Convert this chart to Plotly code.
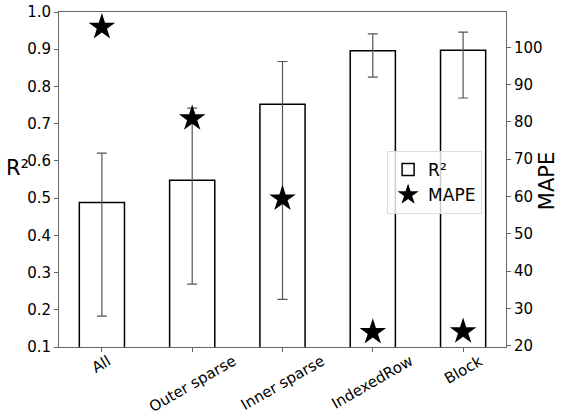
import plotly.graph_objects as go

categories = ["All", "Outer sparse", "Inner sparse", "IndexedRow", "Block"]
r2_values = [0.488, 0.548, 0.752, 0.896, 0.897]
r2_err_plus = [0.133, 0.194, 0.115, 0.045, 0.049]
r2_err_minus = [0.305, 0.279, 0.524, 0.071, 0.128]
mape_values = [105.4, 80.9, 59.4, 23.6, 23.8]

xpos = list(range(len(categories)))
FONT = "DejaVu Sans"
AX = "#666666"

fig = go.Figure()
fig.add_trace(go.Bar(
    x=xpos, y=r2_values, width=0.5, name="R²",
    marker=dict(color="white", line=dict(color="black", width=1.5)),
    error_y=dict(type="data", symmetric=False, array=r2_err_plus,
                 arrayminus=r2_err_minus, color="#555555", thickness=1.2, width=5),
    yaxis="y",
))
fig.add_trace(go.Scatter(
    x=xpos, y=mape_values, mode="markers", name="MAPE",
    marker=dict(symbol="star", size=20, color="black"),
    yaxis="y2",
))

annotations = []
for xi, lab in zip(xpos, categories):
    annotations.append(dict(x=xi, y=0, xref="x", yref="paper", text=lab,
                            showarrow=False, textangle=-30, xanchor="center",
                            yanchor="top", yshift=-2,
                            font=dict(family=FONT, size=15, color="black")))
annotations.append(dict(x=-0.092, y=0.534, xref="paper", yref="paper", text="R²",
                        showarrow=False, xanchor="center", yanchor="middle",
                        font=dict(family=FONT, size=21, color="black")))
annotations.append(dict(x=1.092, y=0.4955, xref="paper", yref="paper", text="MAPE",
                        showarrow=False, textangle=-90, xanchor="center", yanchor="middle",
                        font=dict(family=FONT, size=21, color="black")))

fig.update_layout(
    width=562, height=417, autosize=False,
    margin=dict(l=59, r=56, t=12, b=70, pad=0, autoexpand=False),
    plot_bgcolor="white", paper_bgcolor="white",
    font=dict(family=FONT, size=15, color="black"),
    xaxis=dict(range=[-0.475, 4.475], tickvals=xpos, ticktext=[""] * len(xpos),
               showline=True, linecolor=AX, linewidth=1, mirror=True, automargin=False,
               ticks="outside", ticklen=4, tickcolor=AX, showgrid=False, zeroline=False),
    yaxis=dict(range=[0.1, 1.0], tickvals=[0.1, 0.2, 0.3, 0.4, 0.5, 0.6, 0.7, 0.8, 0.9, 1.0],
               tickformat=".1f", showline=True, linecolor=AX, linewidth=1, automargin=False,
               ticks="outside", ticklen=4, tickcolor=AX, showgrid=False, zeroline=False,
               tickfont=dict(size=15)),
    yaxis2=dict(range=[19.65, 109.45], overlaying="y", side="right", automargin=False,
                tickvals=[20, 30, 40, 50, 60, 70, 80, 90, 100],
                showline=True, linecolor=AX, linewidth=1,
                ticks="outside", ticklen=4, tickcolor=AX, showgrid=False, zeroline=False,
                tickfont=dict(size=15)),
    legend=dict(x=0.734, y=0.585, xanchor="left", yanchor="top",
                bgcolor="rgba(255,255,255,0.8)", bordercolor="#dddddd", borderwidth=1,
                font=dict(family=FONT, size=17)),
    showlegend=True,
    annotations=annotations,
)

fig.write_html("out.html", config={"displayModeBar": False},
               post_script="document.body.style.margin='0';")
